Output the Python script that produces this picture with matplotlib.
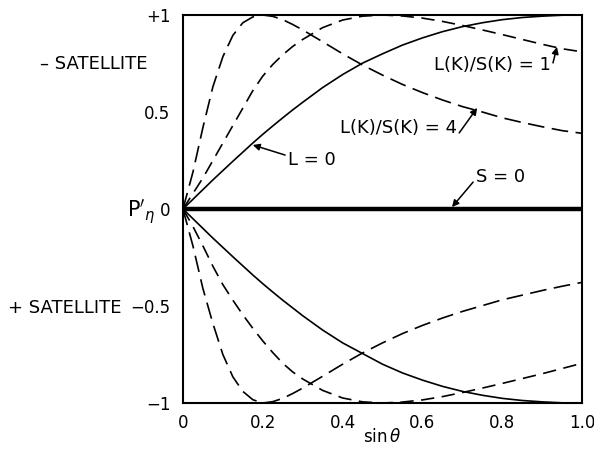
import matplotlib
matplotlib.use("Agg")
import matplotlib.pyplot as plt
from matplotlib.ticker import FixedLocator

# ===================== DADOS =====================
sin_theta = [0.0, 0.025, 0.05, 0.075, 0.1, 0.125, 0.15, 0.175, 0.2, 0.225, 0.25,
             0.275, 0.3, 0.35, 0.4, 0.45, 0.5, 0.55, 0.6, 0.65, 0.7, 0.75,
             0.8, 0.85, 0.9, 0.95, 1.0]

# - satellite (upper half)
up_lk_sk_4 = [0.0, 0.19, 0.42, 0.63, 0.785, 0.895, 0.96, 0.99, 1.0, 0.993, 0.976,
              0.951, 0.923, 0.862, 0.80, 0.742, 0.69, 0.642, 0.60, 0.562, 0.528, 0.50,
              0.47, 0.446, 0.424, 0.404, 0.39]
up_lk_sk_1 = [0.0, 0.08, 0.16, 0.25, 0.34, 0.43, 0.52, 0.61, 0.685, 0.745, 0.795,
              0.838, 0.874, 0.935, 0.974, 0.994, 1.0, 0.995, 0.984, 0.967, 0.946, 0.923,
              0.899, 0.874, 0.849, 0.826, 0.81]
up_l0 = [0.0, 0.05, 0.10, 0.15, 0.198, 0.246, 0.293, 0.34, 0.385, 0.428, 0.47,
         0.511, 0.55, 0.626, 0.693, 0.752, 0.80, 0.845, 0.882, 0.914, 0.94, 0.96,
         0.976, 0.987, 0.994, 0.999, 1.0]

# + satellite (lower half)
lo_lk_sk_4 = [0.0, -0.19, -0.41, -0.59, -0.75, -0.865, -0.94, -0.983, -1.0, -0.993, -0.976,
              -0.951, -0.923, -0.862, -0.80, -0.742, -0.69, -0.642, -0.60, -0.562, -0.528, -0.498,
              -0.468, -0.444, -0.42, -0.398, -0.378]
lo_lk_sk_1 = [0.0, -0.09, -0.19, -0.295, -0.39, -0.47, -0.545, -0.615, -0.68, -0.74, -0.795,
              -0.84, -0.876, -0.935, -0.974, -0.994, -1.0, -0.995, -0.984, -0.967, -0.946, -0.923,
              -0.899, -0.874, -0.849, -0.822, -0.795]
lo_l0 = [0.0, -0.05, -0.10, -0.15, -0.198, -0.246, -0.293, -0.34, -0.385, -0.428, -0.47,
         -0.51, -0.55, -0.624, -0.69, -0.745, -0.80, -0.845, -0.882, -0.914, -0.94, -0.96,
         -0.976, -0.987, -0.994, -0.999, -1.0]

s_zero = [0.0] * len(sin_theta)

x_ticks = [0, 0.2, 0.4, 0.6, 0.8, 1.0]
x_labels = ["0", "0.2", "0.4", "0.6", "0.8", "1.0"]
y_ticks = [-1, -0.5, 0, 0.5, 1]
y_labels = ["\u22121", "\u22120.5", "0", "0.5", "+1"]

# ===================== FIGURA =====================
fig = plt.figure(figsize=(5.94, 4.49), dpi=100)
ax = fig.add_axes([0.308, 0.1024, 0.672, 0.8642])

traco_longo = (0, (10, 4.5))
traco_medio = (0, (8, 4.5))

ax.plot(sin_theta, up_lk_sk_4, color="black", lw=1.2, linestyle=traco_longo)
ax.plot(sin_theta, up_lk_sk_1, color="black", lw=1.2, linestyle=traco_medio)
ax.plot(sin_theta, up_l0, color="black", lw=1.2)
ax.plot(sin_theta, lo_lk_sk_4, color="black", lw=1.2, linestyle=traco_longo)
ax.plot(sin_theta, lo_lk_sk_1, color="black", lw=1.2, linestyle=traco_medio)
ax.plot(sin_theta, lo_l0, color="black", lw=1.2)
ax.plot(sin_theta, s_zero, color="black", lw=3.2, solid_capstyle="butt")

ax.set_xlim(0, 1.0)
ax.set_ylim(-1, 1)

ax.set_xticks(x_ticks)
ax.set_xticklabels(x_labels)
ax.set_yticks(y_ticks)
ax.set_yticklabels(y_labels)
ax.tick_params(axis="both", which="major", length=0, labelsize=12)
ax.tick_params(axis="x", which="major", pad=8)
ax.tick_params(axis="y", which="major", pad=9)

ax.xaxis.set_minor_locator(FixedLocator([0.2, 0.4, 0.6, 0.8]))
ax.yaxis.set_minor_locator(FixedLocator([-0.5, 0.5]))
ax.tick_params(axis="x", which="minor", direction="in", length=11, width=1.2,
               top=True, bottom=True)
ax.tick_params(axis="y", which="minor", direction="in", length=13, width=1.2,
               left=True, right=True)

for lado in ax.spines.values():
    lado.set_linewidth(1.5)

ax.set_xlabel(r"sin$\,\theta$", fontsize=12, labelpad=-3)

# ===================== TEXTOS =====================
fig.text(141 / 594, 1 - 212 / 449, r"$\mathrm{P}'_{\eta}$", fontsize=15, ha="center", va="center")
fig.text(40 / 594, 1 - 64 / 449, "\u2013 SATELLITE", fontsize=13, ha="left", va="center")
fig.text(8 / 594, 1 - 308 / 449, "+ SATELLITE", fontsize=13, ha="left", va="center")

seta = dict(arrowstyle="-|>", mutation_scale=10, color="black", lw=1.1, shrinkA=0, shrinkB=0)

ax.text(0.263, 0.253, "L = 0", fontsize=13, ha="left", va="center")
ax.annotate("", xy=(0.175, 0.33), xytext=(0.256, 0.278), arrowprops=seta)

ax.text(0.686, 0.418, "L(K)/S(K) = 4", fontsize=13, ha="right", va="center")
ax.annotate("", xy=(0.737, 0.521), xytext=(0.692, 0.392), arrowprops=seta)

ax.text(0.922, 0.742, "L(K)/S(K) = 1", fontsize=13, ha="right", va="center")
ax.annotate("", xy=(0.937, 0.835), xytext=(0.927, 0.753), arrowprops=seta)

ax.text(0.734, 0.165, "S = 0", fontsize=13, ha="left", va="center")
ax.annotate("", xy=(0.674, 0.01), xytext=(0.727, 0.139), arrowprops=seta)

fig.savefig("out.png", dpi=100)
